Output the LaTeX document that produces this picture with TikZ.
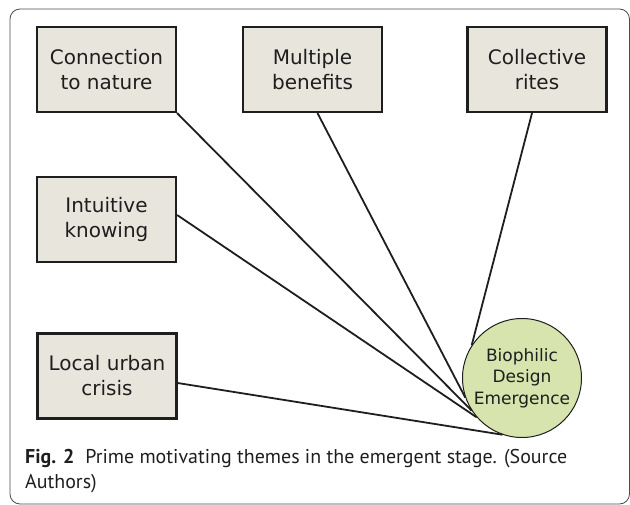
\documentclass[tikz,border=0pt]{standalone}
\usepackage{fontspec}
\setmainfont{DejaVu Sans}
\newfontfamily\capfont{PT Sans}
\definecolor{boxfill}{HTML}{E8E6DC}
\definecolor{circfill}{HTML}{D8E4AE}
\definecolor{ink}{HTML}{1E1E1E}
\newlength\capwidth
\newcommand\captionone{\textbf{Fig. 2}\hspace{0.55em}Prime motivating themes in the emergent stage. (Source}
\begin{document}
\settowidth\capwidth{\capfont\fontsize{19}{24}\selectfont\captionone}
\pgfmathsetmacro\capfs{19*542/\capwidth}
\begin{tikzpicture}[x=1pt,y=-1pt,
  theme/.style={draw=ink, line width=2.2pt, fill=boxfill, minimum width=139pt,
    minimum height=85pt, align=center, text=ink,
    font=\fontsize{20}{25}\selectfont, inner sep=0pt},
  hub/.style={circle, draw=ink, line width=1pt, fill=circfill, minimum size=119pt,
    align=center, text=ink, font=\fontsize{17}{21.5}\selectfont, inner sep=0pt},
  link/.style={line width=1.8pt, draw=ink},
  captext/.style={anchor=base west, text=ink, font=\capfont\fontsize{\capfs}{24}\selectfont, inner sep=0pt}]
\useasboundingbox (0,0) rectangle (630,505);
\draw[rounded corners=10pt, line width=0.8pt, draw=black!70] (10,9) rectangle (629.5,504);
\node[theme] (conn) at (106.5,69.5) {Connection\\to nature};
\node[theme] (mult) at (312.5,69.5) {Multiple\\benefits};
\node[theme] (coll) at (537,69.5) {Collective\\rites};
\node[theme] (intu) at (106.5,219.5) {Intuitive\\knowing};
\node[theme] (local) at (107,376) {Local urban\\crisis};
\node[hub] (bio) at (522,378) {Biophilic\\Design\\Emergence};
\draw[link] (conn.south east) -- (bio.213);
\draw[link] ([xshift=5pt]mult.south) -- (bio.199);
\draw[link] ([xshift=-5pt]coll.south) -- (bio.147);
\draw[link] ([yshift=4.5pt]intu.east) -- (bio.221);
\draw[link] ([yshift=-7pt]local.east) -- (bio.251);
\node[captext] (cap1) at (25,464) {\captionone};
\node[captext] (cap2) at (25,488) {Authors)};
\end{tikzpicture}
\end{document}
